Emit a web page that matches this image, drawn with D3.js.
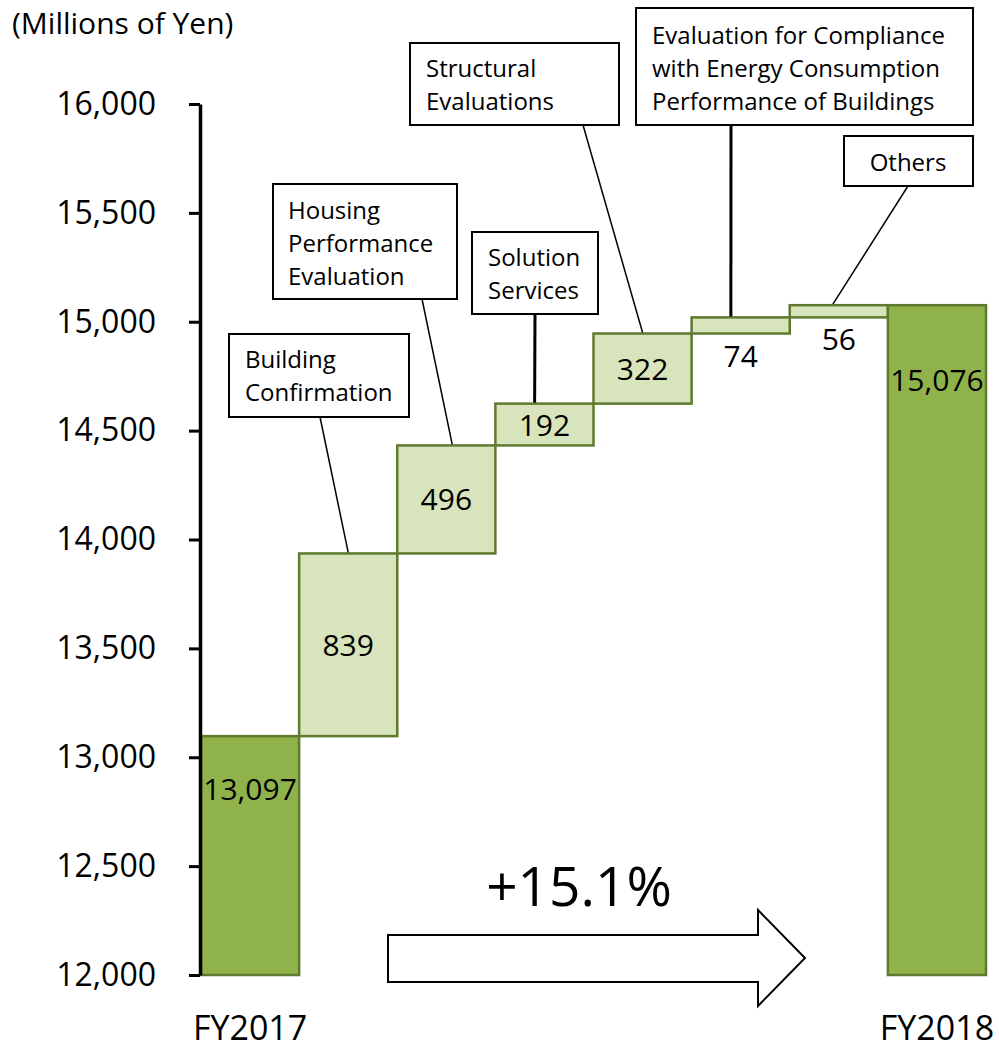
<!DOCTYPE html>
<html>
<head>
<meta charset="utf-8">
<script src="https://cdn.jsdelivr.net/npm/d3@7"></script>
<style>
  body { margin: 0; background: #fff; }
  text { font-family: "Open Sans", sans-serif; fill: #000; }
</style>
</head>
<body>
<div id="chart"></div>
<script>
// data
var categories = ["FY2017", "Building Confirmation", "Housing Performance Evaluation",
  "Solution Services", "Structural Evaluations",
  "Evaluation for Compliance with Energy Consumption Performance of Buildings",
  "Others", "FY2018"];
var values = [13097, 839, 496, 192, 322, 74, 56, 15076];
var isTotal = [true, false, false, false, false, false, false, true];
var yTicks = [12000, 12500, 13000, 13500, 14000, 14500, 15000, 15500, 16000];
var calloutLines = [
  [],
  ["Building", "Confirmation"],
  ["Housing", "Performance", "Evaluation"],
  ["Solution", "Services"],
  ["Structural", "Evaluations"],
  ["Evaluation for Compliance", "with Energy Consumption", "Performance of Buildings"],
  ["Others"],
  []
];
var axisTitle = "(Millions of Yen)";
var growthLabel = "+15.1%";

// callout box layout (x, y, w, h), leader anchor as fraction of band, leader width
var calloutBoxes = [
  null,
  {x: 229, y: 334, w: 180, h: 83, ax: 320, f: 0.5, sw: 1.5, tx: 245, ty: 368},
  {x: 273, y: 184, w: 184, h: 115, ax: 422, f: 0.56, sw: 1.5, tx: 288, ty: 219},
  {x: 472, y: 232, w: 126, h: 82, ax: 535, f: 0.4, sw: 3, tx: 488, ty: 266},
  {x: 410, y: 43, w: 209, h: 82, ax: 583, f: 0.5, sw: 1.5, tx: 426, ty: 77},
  {x: 636, y: 8, w: 337, h: 117, ax: 731, f: 0.4, sw: 3, tx: 652, ty: 44},
  {x: 844, y: 136, w: 129, h: 50, ax: 908, f: 0.44, sw: 1.5, tx: 908, ty: 171, mid: true},
  null
];
var totalLabelOffset = {"FY2017": 64, "FY2018": 86};

var width = 999, height = 1052;

var svg = d3.select("#chart").append("svg")
    .attr("width", width)
    .attr("height", height);

var x = d3.scaleBand().domain(categories).range([201, 986]).padding(0);
var y = d3.scaleLinear().domain([12000, 16000]).range([975, 104]);

// waterfall bounds
var running = 0;
var bars = categories.map(function(c, i) {
  var lo, hi;
  if (isTotal[i]) { lo = y.domain()[0]; hi = values[i]; running = values[i]; }
  else { lo = running; hi = running + values[i]; running = hi; }
  return {cat: c, v: values[i], lo: lo, hi: hi, total: isTotal[i], i: i};
});

svg.append("g").selectAll("rect")
  .data(bars)
  .enter().append("rect")
  .attr("x", function(d) { return x(d.cat); })
  .attr("y", function(d) { return y(d.hi); })
  .attr("width", x.bandwidth())
  .attr("height", function(d) { return y(d.lo) - y(d.hi); })
  .style("fill", function(d) { return d.total ? "#90b24b" : "#d8e4bc"; })
  .style("stroke", "#5f7a2f")
  .style("stroke-width", 2.5);

// value labels
svg.append("g").selectAll("text")
  .data(bars)
  .enter().append("text")
  .attr("x", function(d) { return x(d.cat) + x.bandwidth() / 2; })
  .attr("y", function(d) {
    if (d.total) return y(d.hi) + totalLabelOffset[d.cat];
    var h = y(d.lo) - y(d.hi);
    if (h < 30) return y(d.lo) + 33;
    return (y(d.lo) + y(d.hi)) / 2 + 11;
  })
  .attr("text-anchor", "middle")
  .style("font-size", "30px")
  .text(function(d) { return d3.format(",")(d.v); });

// callouts
var co = svg.append("g");
bars.forEach(function(d, i) {
  var b = calloutBoxes[i];
  if (!b) return;
  co.append("line")
    .attr("x1", b.ax).attr("y1", b.y + b.h)
    .attr("x2", x(d.cat) + x.bandwidth() * b.f).attr("y2", y(d.hi) - 1)
    .style("stroke", "#000").style("stroke-width", b.sw);
  co.append("rect")
    .attr("x", b.x).attr("y", b.y).attr("width", b.w).attr("height", b.h)
    .style("fill", "#fff").style("stroke", "#000").style("stroke-width", 2);
  co.append("g").selectAll("text")
    .data(calloutLines[i])
    .enter().append("text")
    .attr("x", b.tx)
    .attr("y", function(t, k) { return b.ty + k * 33; })
    .attr("text-anchor", b.mid ? "middle" : "start")
    .style("font-size", "24px")
    .text(function(t) { return t; });
});

// y axis
var yAxis = svg.append("g")
  .attr("transform", "translate(200,0)")
  .call(d3.axisLeft(y).tickValues(yTicks).tickSize(11).tickSizeOuter(0).tickPadding(33)
    .tickFormat(d3.format(",")));
yAxis.select(".domain").style("stroke", "#000").style("stroke-width", 3.5);
yAxis.selectAll(".tick line").style("stroke", "#000").style("stroke-width", 3);
yAxis.selectAll(".tick text").style("font-size", "32px").style("font-family", "'Open Sans', sans-serif").style("fill", "#000");

svg.append("text")
  .attr("x", 12).attr("y", 34)
  .style("font-size", "30px")
  .text(axisTitle);

// category labels for the totals
svg.append("g").selectAll("text")
  .data(bars.filter(function(d) { return d.total; }))
  .enter().append("text")
  .attr("x", function(d) { return x(d.cat) + x.bandwidth() / 2; })
  .attr("y", 1040)
  .attr("text-anchor", "middle")
  .style("font-size", "34px")
  .text(function(d) { return d.cat; });

// growth arrow
var arrow = [[388, 935], [758, 935], [758, 910], [805, 958], [758, 1006], [758, 982], [388, 982]];
svg.append("path")
  .attr("d", d3.line()(arrow) + "Z")
  .style("fill", "#fff").style("stroke", "#000").style("stroke-width", 2);

svg.append("text")
  .attr("x", 579).attr("y", 906)
  .attr("text-anchor", "middle")
  .style("font-size", "55px")
  .text(growthLabel);
</script>
</body>
</html>
